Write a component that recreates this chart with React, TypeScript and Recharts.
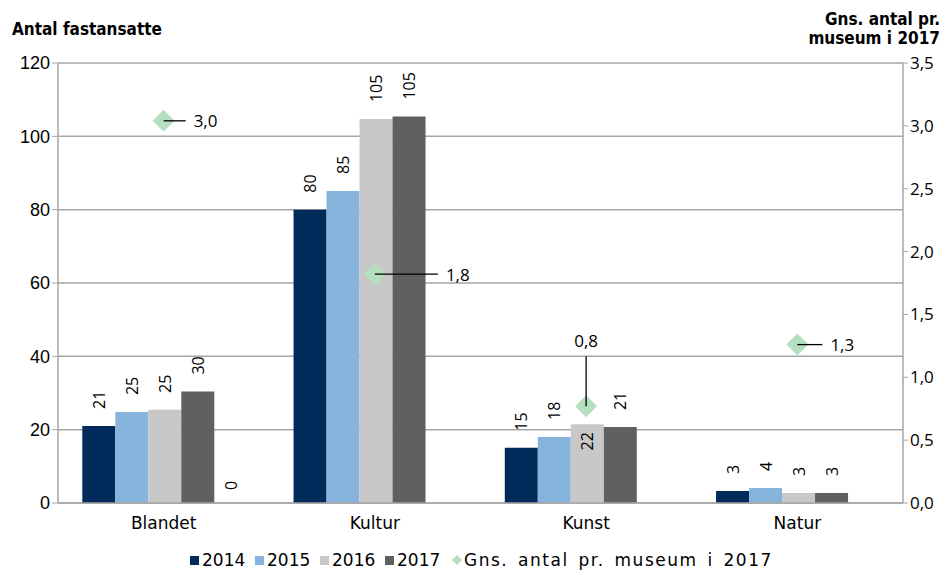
import { ComposedChart, Bar, Scatter, XAxis, YAxis, CartesianGrid, Legend, LabelList } from 'recharts';

const categories = ['Blandet', 'Kultur', 'Kunst', 'Natur'];
const s2014 = [21, 80, 15.1, 3.3];
const s2015 = [24.8, 85.1, 18, 4.1];
const s2016 = [25.4, 104.7, 21.5, 2.7];
const s2017 = [30.4, 105.4, 20.7, 2.7];
const blank = [0, null, null, null];
const gns = [3.04, 1.82, 0.77, 1.26];
const leftTicks = [0, 20, 40, 60, 80, 100, 120];
const rightTicks = [0, 0.5, 1, 1.5, 2, 2.5, 3, 3.5];

const data = categories.map((name, i) => ({
  name,
  y2014: s2014[i],
  y2015: s2015[i],
  y2016: s2016[i],
  y2017: s2017[i],
  blank: blank[i],
  gns: gns[i],
}));

// leader line / label placement for the diamonds
const gnsLabelPos: Record<string, { dx: number; dy: number; side: 'right' | 'top' }> = {
  Blandet: { dx: 22, dy: 0, side: 'right' },
  Kultur: { dx: 63, dy: 0, side: 'right' },
  Kunst: { dx: 0, dy: -50, side: 'top' },
  Natur: { dx: 25, dy: 0, side: 'right' },
};

const NUM_FONT = '"Open Sans", "DejaVu Sans", sans-serif';
const ARIAL = '"Liberation Sans", Arial, sans-serif';
const DIN_FONT = '"DejaVu Sans", sans-serif';
const DIN_COND = '"DejaVu Sans Condensed", "DejaVu Sans", sans-serif';

const SERIES = [
  { key: 'y2014', name: '2014', color: '#002b5b' },
  { key: 'y2015', name: '2015', color: '#87b4dc' },
  { key: 'y2016', name: '2016', color: '#c8c8c8' },
  { key: 'y2017', name: '2017', color: '#606060' },
];

const comma = (v: number) => v.toFixed(1).replace('.', ',');

const rotatedText = (cx: number, ty: number, value: number, inside: boolean) => (
  <text
    x={cx}
    y={ty}
    transform={`rotate(-90 ${cx} ${ty})`}
    textAnchor={inside ? 'end' : 'start'}
    dominantBaseline="central"
    fontSize={16}
    fontFamily={NUM_FONT}
    fill="#000"
  >
    {String(Math.round(value))}
  </text>
);

const barLabel = (inside?: number) => (props: any) => {
  const { x, y, width, value, index } = props;
  if (value === null || value === undefined) return null;
  const isInside = inside === index;
  return rotatedText(x + width / 2, isInside ? y + 8 : y - 17, value, isInside);
};

const BlankShape = (props: any) => {
  const { x, y, width, value } = props;
  const v = Array.isArray(value) ? value[1] - value[0] : value;
  if (v === null || v === undefined || Number.isNaN(v)) return <g />;
  return rotatedText(x + width / 2, y - 13, v, false);
};

const Diamond = (props: any) => {
  const { cx, cy, payload } = props;
  const r = 11;
  const pos = gnsLabelPos[payload.name];
  const ex = cx + pos.dx;
  const ey = cy + pos.dy;
  return (
    <g>
      <polygon points={`${cx},${cy - r} ${cx + r},${cy} ${cx},${cy + r} ${cx - r},${cy}`} fill="#b4e0c1" />
      <line x1={cx} y1={cy} x2={ex} y2={ey} stroke="#000" strokeWidth={1.3} />
      {pos.side === 'right' ? (
        <text x={ex + 8} y={ey} dominantBaseline="central" fontSize={17} fontFamily={NUM_FONT} fill="#000">
          {comma(payload.gns)}
        </text>
      ) : (
        <text x={ex} y={ey - 9} textAnchor="middle" fontSize={17} fontFamily={NUM_FONT} fill="#000">
          {comma(payload.gns)}
        </text>
      )}
    </g>
  );
};

const LegendContent = () => (
  <div style={{ display: 'flex', alignItems: 'center', height: 26, paddingTop: 8, paddingLeft: 190, boxSizing: 'border-box', fontFamily: DIN_FONT, fontSize: 17, lineHeight: '18px', color: '#000' }}>
    {SERIES.map(s => (
      <span key={s.key} style={{ display: 'flex', alignItems: 'center', width: 65 }}>
        <span style={{ width: 9, height: 9, background: s.color, display: 'inline-block', marginRight: 3 }} />
        {s.name}
      </span>
    ))}
    <span style={{ display: 'flex', alignItems: 'center', marginLeft: 2, whiteSpace: 'nowrap' }}>
      <svg width={10} height={10} style={{ marginRight: 2 }}>
        <polygon points="5,0 10,5 5,10 0,5" fill="#b4e0c1" />
      </svg>
      <span style={{ letterSpacing: 1.5, wordSpacing: 3 }}>Gns. antal pr. museum i 2017</span>
    </span>
  </div>
);

export default function App() {
  return (
    <div style={{ position: 'absolute', left: 0, top: 0, width: 944, height: 573, background: '#fff' }}>
      <div style={{ position: 'absolute', left: 12, top: 19, fontFamily: DIN_COND, fontWeight: 'bold', fontSize: 17, lineHeight: '20px' }}>
        Antal fastansatte
      </div>
      <div style={{ position: 'absolute', right: 4, top: 10, textAlign: 'right', fontFamily: DIN_COND, fontWeight: 'bold', fontSize: 17, lineHeight: '19px' }}>
        Gns. antal pr.
        <br />
        museum i 2017
      </div>
      <ComposedChart
        width={944}
        height={573}
        data={data}
        margin={{ top: 63, right: 0, bottom: 4, left: 0 }}
        barGap={0}
        barCategoryGap="11.5%"
      >
        <CartesianGrid yAxisId="left" vertical={false} stroke="#a6a6a6" strokeWidth={1.5} />
        <XAxis
          dataKey="name"
          height={40}
          tickLine={false}
          axisLine={{ stroke: '#a6a6a6', strokeWidth: 1.5 }}
          tick={{ fontSize: 17, fontFamily: DIN_FONT, fill: '#000' }}
          tickMargin={8}
        />
        <YAxis
          yAxisId="left"
          width={58}
          domain={[0, 120]}
          ticks={leftTicks}
          interval={0}
          axisLine={{ stroke: '#a6a6a6', strokeWidth: 1.5 }}
          tickLine={{ stroke: '#a6a6a6' }}
          tickSize={6}
          tick={{ fontSize: 18, fontFamily: ARIAL, fill: '#000' }}
        />
        <YAxis
          yAxisId="right"
          orientation="right"
          width={41}
          domain={[0, 3.5]}
          ticks={rightTicks}
          interval={0}
          tickFormatter={comma}
          axisLine={{ stroke: '#a6a6a6', strokeWidth: 1.5 }}
          tickLine={{ stroke: '#a6a6a6' }}
          tickSize={5}
          tick={{ fontSize: 17, fontFamily: NUM_FONT, fill: '#000' }}
        />
        <Legend verticalAlign="bottom" height={26} content={LegendContent} />
        {SERIES.map(s => (
          <Bar key={s.key} yAxisId="left" dataKey={s.key} name={s.name} fill={s.color} isAnimationActive={false}>
            <LabelList dataKey={s.key} content={barLabel(s.key === 'y2016' ? 2 : undefined)} />
          </Bar>
        ))}
        <Bar yAxisId="left" dataKey="blank" legendType="none" shape={BlankShape} isAnimationActive={false} />
        <Scatter yAxisId="right" dataKey="gns" name="Gns. antal pr. museum i 2017" shape={Diamond} isAnimationActive={false} />
      </ComposedChart>
    </div>
  );
}
